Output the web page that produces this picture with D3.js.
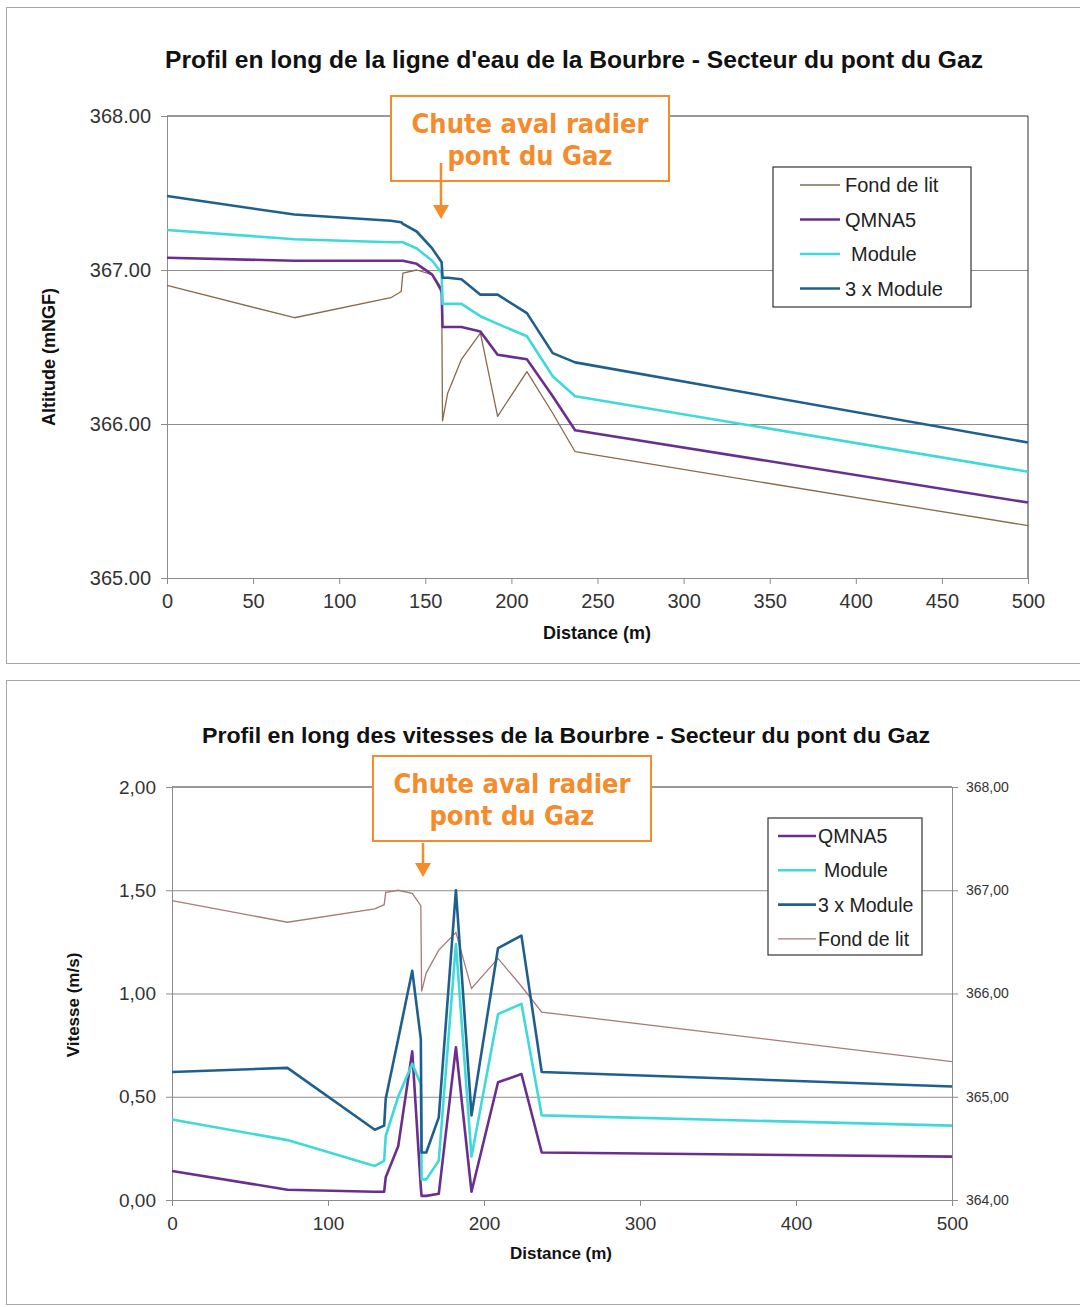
<!DOCTYPE html>
<html>
<head>
<meta charset="utf-8">
<script src="https://cdn.jsdelivr.net/npm/d3@7"></script>
<style>
  body { margin: 0; background: #fff; }
  svg text { font-family: "Liberation Sans", Arial, sans-serif; }
</style>
</head>
<body>
<div id="okvir"></div>
<script>
// distances des profils (m)
const distances = [0, 74, 130, 136, 137, 145, 154, 159.5, 160, 163, 171, 182, 192, 209, 224, 237, 500]

// altitudes (mNGF)
const fondDeLit   = [366.90, 366.69, 366.82, 366.86, 366.98, 367.00, 366.97, 366.85, 366.02, 366.20, 366.42, 366.59, 366.05, 366.34, 366.07, 365.82, 365.34]
const niveauQMNA5 = [367.08, 367.06, 367.06, 367.06, 367.06, 367.04, 366.97, 366.87, 366.63, 366.63, 366.63, 366.60, 366.45, 366.42, 366.18, 365.96, 365.49]
const niveauModule = [367.26, 367.20, 367.18, 367.18, 367.18, 367.14, 367.06, 366.98, 366.78, 366.78, 366.78, 366.70, 366.65, 366.57, 366.31, 366.18, 365.69]
const niveau3Module = [367.48, 367.36, 367.32, 367.31, 367.30, 367.25, 367.14, 367.05, 366.95, 366.95, 366.94, 366.84, 366.84, 366.72, 366.46, 366.40, 365.88]

// vitesses (m/s)
const vitesseQMNA5  = [0.14, 0.05, 0.04, 0.04, 0.11, 0.26, 0.72, 0.06, 0.02, 0.02, 0.03, 0.74, 0.04, 0.57, 0.61, 0.23, 0.21]
const vitesseModule = [0.39, 0.29, 0.165, 0.19, 0.31, 0.50, 0.66, 0.56, 0.10, 0.10, 0.19, 1.24, 0.21, 0.90, 0.95, 0.41, 0.36]
const vitesse3Module = [0.62, 0.64, 0.34, 0.36, 0.49, 0.78, 1.11, 0.78, 0.23, 0.23, 0.40, 1.50, 0.41, 1.22, 1.28, 0.62, 0.55]

const titreHaut = "Profil en long de la ligne d'eau de la Bourbre - Secteur du pont du Gaz"
const titreBas = "Profil en long des vitesses de la Bourbre - Secteur du pont du Gaz"
const ticksAltitude = [365, 366, 367, 368]
const ticksDistanceHaut = [0, 50, 100, 150, 200, 250, 300, 350, 400, 450, 500]
const ticksDistanceBas = [0, 100, 200, 300, 400, 500]
const ticksVitesse = [0, 0.5, 1, 1.5, 2]
const ticksAltitudeDroite = [364, 365, 366, 367, 368]

const couleurs = {
  fond: "#8a6a4c",
  fondBas: "#a87a7a",
  qmna5: "#6a2f8e",
  module: "#3fd9d9",
  module3: "#1f5f8e",
  orange: "#f68b2c",
}

const fr = d3.formatLocale({ decimal: ",", thousands: " ", grouping: [3], currency: ["", " €"] })

const okvir = d3.select("#okvir")
  .append("svg")
  .attr("width", 1080)
  .attr("height", 1307)

// cadres des deux graphiques
okvir.append("rect")
  .attr("x", 6.5).attr("y", 7.5)
  .attr("width", 1090).attr("height", 656)
  .attr("fill", "none").attr("stroke", "#a8a8a8")
okvir.append("rect")
  .attr("x", 6.5).attr("y", 680.5)
  .attr("width", 1090).attr("height", 624)
  .attr("fill", "none").attr("stroke", "#a8a8a8")

function styleAxe(g, taille) {
  g.select(".domain").attr("stroke", "#8c8c8c")
  g.selectAll(".tick line").attr("stroke", "#8c8c8c")
  g.selectAll(".tick text")
    .attr("fill", "#333")
    .style("font-size", taille + "px")
}

function encadre(g, x, y, w, h, flecheX, flecheY1, flecheY2) {
  g.append("rect")
    .attr("x", x).attr("y", y)
    .attr("width", w).attr("height", h)
    .attr("fill", "#fff")
    .attr("stroke", couleurs.orange)
    .attr("stroke-width", 2)
  const t = g.append("text")
    .attr("text-anchor", "middle")
    .attr("fill", couleurs.orange)
    .style("font-family", "'DejaVu Sans Condensed', 'DejaVu Sans', sans-serif")
    .style("font-weight", "bold")
    .style("font-size", "27px")
  t.append("tspan").attr("x", x + w / 2).attr("y", y + 37).text("Chute aval radier")
  t.append("tspan").attr("x", x + w / 2).attr("y", y + 69).text("pont du Gaz")
  g.append("line")
    .attr("x1", flecheX).attr("x2", flecheX)
    .attr("y1", flecheY1).attr("y2", flecheY2 - 10)
    .attr("stroke", couleurs.orange)
    .attr("stroke-width", 2.5)
  g.append("path")
    .attr("d", `M${flecheX - 8},${flecheY2 - 14} L${flecheX + 8},${flecheY2 - 14} L${flecheX},${flecheY2} Z`)
    .attr("fill", couleurs.orange)
}

function legende(g, x, y, w, h, items, pas, o) {
  g.append("rect")
    .attr("x", x).attr("y", y)
    .attr("width", w).attr("height", h)
    .attr("fill", "#fff")
    .attr("stroke", "#333")
    .attr("stroke-width", 1.2)
  items.forEach((d, i) => {
    const cy = y + 18 + i * pas
    g.append("line")
      .attr("x1", x + o.ligne1).attr("x2", x + o.ligne2)
      .attr("y1", cy).attr("y2", cy)
      .attr("stroke", d.couleur)
      .attr("stroke-width", d.epaisseur)
    g.append("text")
      .attr("x", x + o.texte + (d.decale || 0))
      .attr("y", cy + 7)
      .attr("fill", "#222")
      .style("font-size", o.taille + "px")
      .text(d.nom)
  })
}

// ---------- graphique du haut : lignes d'eau ----------
function crtajNiveaux() {
  const dim = { left: 167, top: 116, right: 1028, bottom: 578 }
  const xSkala = d3.scaleLinear().domain([0, 500]).range([dim.left, dim.right])
  const ySkala = d3.scaleLinear().domain([365, 368]).range([dim.bottom, dim.top])

  const g = okvir.append("g")

  g.append("text")
    .attr("x", 574).attr("y", 68)
    .attr("text-anchor", "middle")
    .attr("fill", "#111")
    .attr("textLength", 818)
    .attr("lengthAdjust", "spacingAndGlyphs")
    .style("font-size", "23px").style("font-weight", "bold")
    .text(titreHaut)

  // quadrillage
  g.append("g")
    .attr("transform", `translate(${dim.left},0)`)
    .call(d3.axisLeft(ySkala).tickValues([366, 367]).tickSize(-(dim.right - dim.left)).tickFormat(""))
    .call(a => a.select(".domain").remove())
    .call(a => a.selectAll(".tick line").attr("stroke", "#8c8c8c"))

  // cadre de la zone de tracé
  g.append("line").attr("x1", dim.left).attr("x2", dim.right).attr("y1", dim.top).attr("y2", dim.top).attr("stroke", "#333")
  g.append("line").attr("x1", dim.right).attr("x2", dim.right).attr("y1", dim.top).attr("y2", dim.bottom).attr("stroke", "#333")

  const xOs = g.append("g")
    .attr("transform", `translate(0,${dim.bottom})`)
    .call(d3.axisBottom(xSkala).tickValues(ticksDistanceHaut).tickSize(6).tickPadding(10).tickSizeOuter(0))
  styleAxe(xOs, 20)

  const yOs = g.append("g")
    .attr("transform", `translate(${dim.left},0)`)
    .call(d3.axisLeft(ySkala).tickValues(ticksAltitude).tickSize(6).tickPadding(10).tickFormat(d3.format(".2f")).tickSizeOuter(0))
  styleAxe(yOs, 20)

  g.append("text")
    .attr("x", 597).attr("y", 639)
    .attr("text-anchor", "middle")
    .attr("fill", "#111")
    .style("font-size", "18px").style("font-weight", "bold")
    .text("Distance (m)")

  g.append("text")
    .attr("transform", `translate(55,357) rotate(-90)`)
    .attr("text-anchor", "middle")
    .attr("fill", "#111")
    .style("font-size", "18px").style("font-weight", "bold")
    .text("Altitude  (mNGF)")

  const series = [
    { valeurs: fondDeLit, couleur: couleurs.fond, epaisseur: 1.3 },
    { valeurs: niveauQMNA5, couleur: couleurs.qmna5, epaisseur: 2.6 },
    { valeurs: niveauModule, couleur: couleurs.module, epaisseur: 2.6 },
    { valeurs: niveau3Module, couleur: couleurs.module3, epaisseur: 2.6 },
  ]
  const linija = d3.line()
    .x((d, i) => xSkala(distances[i]))
    .y(d => ySkala(d))

  g.selectAll("path.serie")
    .data(series)
    .join("path")
    .attr("class", "serie")
    .attr("d", d => linija(d.valeurs))
    .attr("fill", "none")
    .attr("stroke", d => d.couleur)
    .attr("stroke-width", d => d.epaisseur)
    .attr("stroke-linejoin", "round")

  legende(g, 773, 167, 198, 140, [
    { nom: "Fond de lit", couleur: couleurs.fond, epaisseur: 1.3 },
    { nom: "QMNA5", couleur: couleurs.qmna5, epaisseur: 2.6 },
    { nom: "Module", couleur: couleurs.module, epaisseur: 2.6, decale: 6 },
    { nom: "3 x Module", couleur: couleurs.module3, epaisseur: 2.6 },
  ], 34.5, { ligne1: 27, ligne2: 67, texte: 72, taille: 20 })

  encadre(g, 391, 96, 278, 85, 441, 163, 219)
}

// ---------- graphique du bas : vitesses ----------
function crtajVitesses() {
  const dim = { left: 172, top: 787, right: 952, bottom: 1200 }
  const xSkala = d3.scaleLinear().domain([0, 500]).range([dim.left, dim.right])
  const ySkala = d3.scaleLinear().domain([0, 2]).range([dim.bottom, dim.top])
  const y2Skala = d3.scaleLinear().domain([364, 368]).range([dim.bottom, dim.top])

  const g = okvir.append("g")

  g.append("text")
    .attr("x", 566).attr("y", 743)
    .attr("text-anchor", "middle")
    .attr("fill", "#111")
    .attr("textLength", 728)
    .attr("lengthAdjust", "spacingAndGlyphs")
    .style("font-size", "22px").style("font-weight", "bold")
    .text(titreBas)

  g.append("g")
    .attr("transform", `translate(${dim.left},0)`)
    .call(d3.axisLeft(ySkala).tickValues([0.5, 1, 1.5]).tickSize(-(dim.right - dim.left)).tickFormat(""))
    .call(a => a.select(".domain").remove())
    .call(a => a.selectAll(".tick line").attr("stroke", "#8c8c8c"))

  g.append("line").attr("x1", dim.left).attr("x2", dim.right).attr("y1", dim.top).attr("y2", dim.top).attr("stroke", "#333")

  const xOs = g.append("g")
    .attr("transform", `translate(0,${dim.bottom})`)
    .call(d3.axisBottom(xSkala).tickValues(ticksDistanceBas).tickSize(6).tickPadding(11).tickSizeOuter(0))
  styleAxe(xOs, 19)

  const yOs = g.append("g")
    .attr("transform", `translate(${dim.left},0)`)
    .call(d3.axisLeft(ySkala).tickValues(ticksVitesse).tickSize(6).tickPadding(10).tickFormat(fr.format(".2f")).tickSizeOuter(0))
  styleAxe(yOs, 19)

  const y2Os = g.append("g")
    .attr("transform", `translate(${dim.right},0)`)
    .call(d3.axisRight(y2Skala).tickValues(ticksAltitudeDroite).tickSize(6).tickPadding(8).tickFormat(fr.format(".2f")).tickSizeOuter(0))
  styleAxe(y2Os, 14)

  g.append("text")
    .attr("x", 561).attr("y", 1259)
    .attr("text-anchor", "middle")
    .attr("fill", "#111")
    .style("font-size", "17px").style("font-weight", "bold")
    .text("Distance (m)")

  g.append("text")
    .attr("transform", `translate(79,1005) rotate(-90)`)
    .attr("text-anchor", "middle")
    .attr("fill", "#111")
    .style("font-size", "17px").style("font-weight", "bold")
    .text("Vitesse (m/s)")

  const linijaV = d3.line()
    .x((d, i) => xSkala(distances[i]))
    .y(d => ySkala(d))
  const linijaF = d3.line()
    .x((d, i) => xSkala(distances[i]))
    .y(d => y2Skala(d))

  g.append("path")
    .attr("d", linijaF(fondDeLit))
    .attr("fill", "none")
    .attr("stroke", couleurs.fondBas)
    .attr("stroke-width", 1.3)

  const series = [
    { valeurs: vitesseQMNA5, couleur: couleurs.qmna5 },
    { valeurs: vitesseModule, couleur: couleurs.module },
    { valeurs: vitesse3Module, couleur: couleurs.module3 },
  ]
  g.selectAll("path.vitesse")
    .data(series)
    .join("path")
    .attr("class", "vitesse")
    .attr("d", d => linijaV(d.valeurs))
    .attr("fill", "none")
    .attr("stroke", d => d.couleur)
    .attr("stroke-width", 2.6)
    .attr("stroke-linejoin", "round")

  legende(g, 768, 818, 154, 137, [
    { nom: "QMNA5", couleur: couleurs.qmna5, epaisseur: 2.6 },
    { nom: "Module", couleur: couleurs.module, epaisseur: 2.6, decale: 6 },
    { nom: "3 x Module", couleur: couleurs.module3, epaisseur: 2.6 },
    { nom: "Fond de lit", couleur: couleurs.fondBas, epaisseur: 1.3 },
  ], 34.3, { ligne1: 10, ligne2: 48, texte: 50, taille: 19.5 })

  encadre(g, 373, 756, 278, 85, 423, 843, 877)
}

crtajNiveaux()
crtajVitesses()
</script>
</body>
</html>
